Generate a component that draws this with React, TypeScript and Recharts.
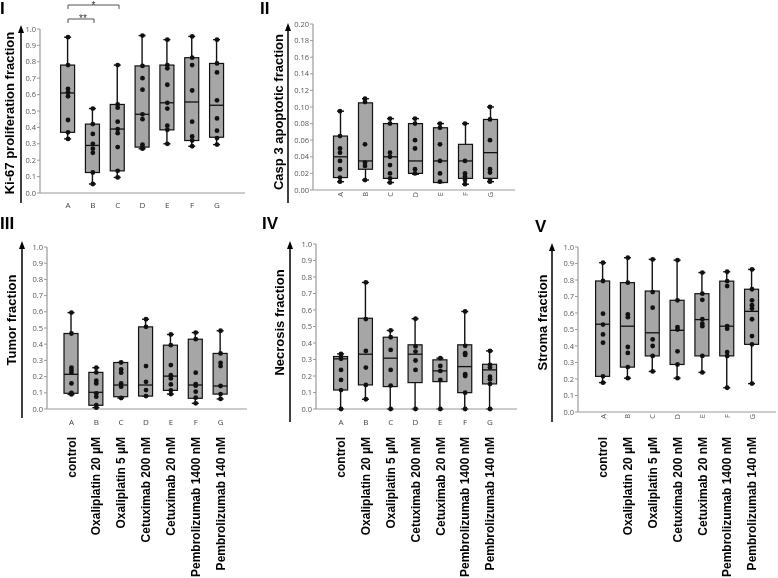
import React from "react";
import { ComposedChart, Bar, Scatter, XAxis, YAxis, Label } from "recharts";

const categories = ["A", "B", "C", "D", "E", "F", "G"];
const treatments = [
  "control",
  "Oxaliplatin 20 µM",
  "Oxaliplatin 5 µM",
  "Cetuximab 200 nM",
  "Cetuximab 20 nM",
  "Pembrolizumab 1400 nM",
  "Pembrolizumab 140 nM",
];

const fractionTicks = [0, 0.1, 0.2, 0.3, 0.4, 0.5, 0.6, 0.7, 0.8, 0.9, 1.0];
const caspTicks = [0, 0.02, 0.04, 0.06, 0.08, 0.1, 0.12, 0.14, 0.16, 0.18, 0.2];

// box stats per category: [min, q1, median, q3, max]
const ki67Stats = [
  [0.33, 0.37, 0.61, 0.78, 0.95],
  [0.055, 0.125, 0.29, 0.42, 0.515],
  [0.095, 0.135, 0.39, 0.54, 0.78],
  [0.27, 0.28, 0.48, 0.775, 0.96],
  [0.3, 0.385, 0.55, 0.78, 0.935],
  [0.285, 0.32, 0.555, 0.825, 0.955],
  [0.295, 0.34, 0.535, 0.79, 0.935],
];
const ki67Points = [
  [0.95, 0.78, 0.635, 0.615, 0.59, 0.445, 0.37, 0.33],
  [0.515, 0.42, 0.36, 0.3, 0.27, 0.245, 0.125, 0.055],
  [0.78, 0.54, 0.52, 0.435, 0.39, 0.365, 0.28, 0.135, 0.095],
  [0.96, 0.775, 0.7, 0.63, 0.48, 0.45, 0.295, 0.28, 0.27],
  [0.935, 0.78, 0.76, 0.66, 0.55, 0.515, 0.41, 0.385, 0.3],
  [0.955, 0.825, 0.78, 0.625, 0.435, 0.345, 0.32, 0.285],
  [0.935, 0.79, 0.735, 0.565, 0.455, 0.38, 0.335, 0.295],
];

const caspStats = [
  [0.01, 0.015, 0.04, 0.065, 0.095],
  [0.012, 0.025, 0.035, 0.105, 0.11],
  [0.009, 0.014, 0.04, 0.08, 0.086],
  [0.019, 0.02, 0.035, 0.08, 0.086],
  [0.009, 0.009, 0.035, 0.075, 0.08],
  [0.007, 0.014, 0.035, 0.055, 0.08],
  [0.01, 0.014, 0.045, 0.085, 0.1],
];
const caspPoints = [
  [0.095, 0.065, 0.05, 0.045, 0.035, 0.025, 0.015, 0.01],
  [0.11, 0.106, 0.055, 0.033, 0.029, 0.012],
  [0.086, 0.08, 0.045, 0.04, 0.03, 0.02, 0.014, 0.009],
  [0.086, 0.08, 0.06, 0.05, 0.025, 0.02],
  [0.08, 0.075, 0.055, 0.035, 0.02, 0.01],
  [0.08, 0.035, 0.02, 0.016, 0.012, 0.007],
  [0.1, 0.085, 0.06, 0.025, 0.021, 0.012, 0.01],
];

const tumorStats = [
  [0.09, 0.097, 0.214, 0.466, 0.595],
  [0.008, 0.023, 0.103, 0.226, 0.255],
  [0.068, 0.076, 0.148, 0.287, 0.287],
  [0.08, 0.08, 0.148, 0.507, 0.554],
  [0.092, 0.115, 0.203, 0.394, 0.46],
  [0.035, 0.066, 0.148, 0.431, 0.472],
  [0.062, 0.092, 0.142, 0.343, 0.483],
];
const tumorPoints = [
  [0.595, 0.466, 0.255, 0.24, 0.224, 0.158, 0.1, 0.09],
  [0.255, 0.226, 0.175, 0.158, 0.097, 0.076, 0.023, 0.008],
  [0.287, 0.244, 0.224, 0.158, 0.138, 0.068],
  [0.554, 0.507, 0.265, 0.168, 0.117, 0.08],
  [0.46, 0.394, 0.271, 0.209, 0.189, 0.152, 0.115, 0.092],
  [0.472, 0.431, 0.224, 0.154, 0.144, 0.107, 0.07, 0.035],
  [0.483, 0.343, 0.285, 0.265, 0.142, 0.092, 0.062],
];

const necrosisStats = [
  [0, 0.115, 0.304, 0.318, 0.334],
  [0.059, 0.146, 0.332, 0.55, 0.767],
  [0, 0.136, 0.308, 0.435, 0.476],
  [0, 0.16, 0.332, 0.389, 0.547],
  [0, 0.166, 0.231, 0.298, 0.308],
  [0, 0.099, 0.257, 0.389, 0.591],
  [0, 0.152, 0.237, 0.271, 0.352],
];
const necrosisPoints = [
  [0.334, 0.318, 0.304, 0.237, 0.176, 0.115, 0],
  [0.767, 0.545, 0.352, 0.251, 0.146, 0.059],
  [0.476, 0.435, 0.358, 0.237, 0.142, 0],
  [0.547, 0.379, 0.348, 0.294, 0.237, 0],
  [0.308, 0.261, 0.231, 0.176, 0],
  [0.591, 0.383, 0.338, 0.328, 0.211, 0.2, 0.099, 0],
  [0.352, 0.267, 0.251, 0.196, 0.18, 0.152, 0],
];

const stromaStats = [
  [0.178, 0.216, 0.532, 0.794, 0.905],
  [0.205, 0.272, 0.52, 0.784, 0.935],
  [0.246, 0.34, 0.48, 0.733, 0.925],
  [0.205, 0.288, 0.495, 0.677, 0.92],
  [0.24, 0.34, 0.56, 0.717, 0.845],
  [0.147, 0.34, 0.52, 0.793, 0.85],
  [0.172, 0.41, 0.61, 0.744, 0.864],
];
const stromaPoints = [
  [0.905, 0.794, 0.596, 0.53, 0.47, 0.42, 0.216, 0.178],
  [0.935, 0.784, 0.592, 0.575, 0.394, 0.358, 0.272, 0.205],
  [0.925, 0.727, 0.632, 0.44, 0.4, 0.34, 0.246],
  [0.92, 0.677, 0.515, 0.5, 0.368, 0.288, 0.205],
  [0.845, 0.717, 0.68, 0.562, 0.535, 0.52, 0.34, 0.24],
  [0.85, 0.793, 0.763, 0.52, 0.505, 0.363, 0.34, 0.147],
  [0.864, 0.744, 0.677, 0.647, 0.627, 0.562, 0.46, 0.41, 0.172],
];

const FRAME = "#9a9a9a";
const BOX_FILL = "#a6a6a6";
const INK = "#111";

function buildBoxes(stats: number[][]) {
  return stats.map((s, i) => ({
    cat: categories[i],
    lo: s[0],
    q1: s[1],
    med: s[2],
    q3: s[3],
    hi: s[4],
    box: [s[1], s[3]],
  }));
}

function buildPoints(points: number[][]) {
  return points.flatMap((vals, i) => vals.map((v) => ({ cat: categories[i], v })));
}

// box + whiskers, positions derived from the bar rect the library gives us
function BoxShape(props: any) {
  const { x, y, width, height, payload } = props;
  const top = Math.min(y, y + height);
  const h = Math.abs(height);
  const ppu = h / (payload.q3 - payload.q1);
  const cx = x + width / 2;
  const yHi = top - (payload.hi - payload.q3) * ppu;
  const yLo = top + h + (payload.q1 - payload.lo) * ppu;
  const yMed = top + (payload.q3 - payload.med) * ppu;
  return (
    <g>
      <line x1={cx} x2={cx} y1={yHi} y2={top} stroke={INK} strokeWidth={1.4} />
      <line x1={cx} x2={cx} y1={top + h} y2={yLo} stroke={INK} strokeWidth={1.4} />
      <line x1={cx - 3.5} x2={cx + 3.5} y1={yHi} y2={yHi} stroke={INK} strokeWidth={1.4} />
      <line x1={cx - 3.5} x2={cx + 3.5} y1={yLo} y2={yLo} stroke={INK} strokeWidth={1.4} />
      <rect x={x} y={top} width={width} height={h} fill={BOX_FILL} stroke={INK} strokeWidth={1.2} />
      <line x1={x} x2={x + width} y1={yMed} y2={yMed} stroke={INK} strokeWidth={1.3} />
    </g>
  );
}

const Dot = (p: any) => <circle cx={p.cx} cy={p.cy} r={2.4} fill={INK} />;

function makeTick(rotated: boolean, withDrug: boolean, letterDy: number, drugDy: number) {
  return (props: any) => {
    const { x, y, payload } = props;
    const i = categories.indexOf(payload.value);
    return (
      <g>
        {rotated ? (
          <text
            transform={`translate(${x},${y + 2}) rotate(-90)`}
            textAnchor="end"
            dy="0.35em"
            fontSize={7.5}
            fill="#555"
            fontFamily="Open Sans"
          >
            {payload.value}
          </text>
        ) : (
          <text x={x} y={y + letterDy} dy="0.35em" textAnchor="middle" fontSize={8} fill="#444" fontFamily="Open Sans">
            {payload.value}
          </text>
        )}
        {withDrug && (
          <text
            transform={`translate(${x},${y + drugDy}) rotate(-90)`}
            textAnchor="end"
            dy="0.35em"
            fontSize={12}
            fontWeight="bold"
            fontFamily="Liberation Sans"
            fill="#000"
          >
            {treatments[i]}
          </text>
        )}
      </g>
    );
  };
}

interface PanelProps {
  left: number;
  top: number;
  width: number;
  height: number;
  mTop: number;
  mRight: number;
  yWidth: number;
  xHeight: number;
  stats: number[][];
  points: number[][];
  ticks: number[];
  digits: number;
  pad: { left: number; right: number };
  title: string;
  titleDx: number;
  titleDy: number;
  tick: any;
}

function Panel(p: PanelProps) {
  const boxes = buildBoxes(p.stats);
  const pts = buildPoints(p.points);
  const max = p.ticks[p.ticks.length - 1];
  return (
    <div style={{ position: "absolute", left: p.left, top: p.top }}>
      <ComposedChart
        width={p.width}
        height={p.height}
        data={boxes}
        margin={{ top: p.mTop, right: p.mRight, bottom: 0, left: 0 }}
      >
        <XAxis
          dataKey="cat"
          type="category"
          allowDuplicatedCategory={false}
          padding={p.pad}
          height={p.xHeight}
          interval={0}
          axisLine={{ stroke: FRAME, strokeWidth: 1.2 }}
          tickLine={false}
          tickSize={0}
          tickMargin={0}
          tick={p.tick}
        />
        <XAxis
          xAxisId="top"
          orientation="top"
          dataKey="cat"
          allowDuplicatedCategory={false}
          height={0}
          tick={false}
          tickLine={false}
          axisLine={{ stroke: FRAME, strokeWidth: 1.2 }}
        />
        <YAxis
          type="number"
          domain={[0, max]}
          ticks={p.ticks}
          interval={0}
          width={p.yWidth}
          tickFormatter={(v: number) => v.toFixed(p.digits)}
          tick={{ fontSize: 7.5, fill: "#555", fontFamily: "Open Sans" }}
          tickSize={3}
          tickMargin={1}
          axisLine={{ stroke: FRAME, strokeWidth: 1.2 }}
          tickLine={{ stroke: FRAME }}
        >
          <Label
            value={p.title}
            angle={-90}
            position="center"
            dx={p.titleDx}
            dy={p.titleDy}
            fill="#000"
            fontSize={13}
            fontWeight="bold"
            fontFamily="Liberation Sans"
          />
        </YAxis>
        <YAxis
          yAxisId="right"
          orientation="right"
          width={0}
          tick={false}
          tickLine={false}
          axisLine={{ stroke: FRAME, strokeWidth: 1.2 }}
        />
        <Bar dataKey="box" barSize={14} shape={BoxShape} isAnimationActive={false} />
        <Scatter data={pts} dataKey="v" shape={Dot} isAnimationActive={false} />
      </ComposedChart>
    </div>
  );
}

function Arrow({ x, y1, y2 }: { x: number; y1: number; y2: number }) {
  return (
    <g>
      <line x1={x} x2={x} y1={y1} y2={y2 + 6} stroke="#000" strokeWidth={1.5} />
      <polygon points={`${x - 3},${y2 + 8} ${x + 3},${y2 + 8} ${x},${y2}`} fill="#000" />
    </g>
  );
}

const numeralStyle = { fontFamily: "Liberation Sans", fontWeight: "bold" as const, fontSize: 17, fill: "#000" };

export default function App() {
  return (
    <div
      style={{
        position: "absolute",
        left: 0,
        top: 0,
        width: 778,
        height: 578,
        background: "#fff",
        overflow: "hidden",
        willChange: "transform",
      }}
    >
      <Panel
        left={0}
        top={0}
        width={250}
        height={213}
        mTop={29}
        mRight={5}
        yWidth={40}
        xHeight={20}
        stats={ki67Stats}
        points={ki67Points}
        ticks={fractionTicks}
        digits={1}
        pad={{ left: 15.6, right: 15.6 }}
        title="Ki-67 proliferation fraction"
        titleDx={-11}
        titleDy={2}
        tick={makeTick(false, false, 12, 0)}
      />
      <Panel
        left={260}
        top={0}
        width={260}
        height={210}
        mTop={24}
        mRight={5}
        yWidth={53}
        xHeight={20}
        stats={caspStats}
        points={caspPoints}
        ticks={caspTicks}
        digits={2}
        pad={{ left: 14.5, right: 12.5 }}
        title="Casp 3 apoptotic fraction"
        titleDx={-8}
        titleDy={5}
        tick={makeTick(true, false, 0, 0)}
      />
      <Panel
        left={0}
        top={240}
        width={252}
        height={338}
        mTop={7}
        mRight={5}
        yWidth={47}
        xHeight={169}
        stats={tumorStats}
        points={tumorPoints}
        ticks={fractionTicks}
        digits={1}
        pad={{ left: 12, right: 14 }}
        title="Tumor fraction"
        titleDx={-12.5}
        titleDy={-8}
        tick={makeTick(false, true, 13, 28)}
      />
      <Panel
        left={260}
        top={240}
        width={262}
        height={338}
        mTop={4}
        mRight={5}
        yWidth={56}
        xHeight={169}
        stats={necrosisStats}
        points={necrosisPoints}
        ticks={fractionTicks}
        digits={1}
        pad={{ left: 12.6, right: 14.6 }}
        title="Necrosis fraction"
        titleDx={-9}
        titleDy={-4}
        tick={makeTick(false, true, 13, 28)}
      />
      <Panel
        left={510}
        top={240}
        width={268}
        height={338}
        mTop={7}
        mRight={2}
        yWidth={68}
        xHeight={166}
        stats={stromaStats}
        points={stromaPoints}
        ticks={fractionTicks}
        digits={1}
        pad={{ left: 12.6, right: 11.6 }}
        title="Stroma fraction"
        titleDx={-1.5}
        titleDy={-7}
        tick={makeTick(true, true, 0, 25)}
      />
      <svg
        width={778}
        height={578}
        style={{ position: "absolute", left: 0, top: 0, pointerEvents: "none" }}
      >
        <Arrow x={21} y1={203} y2={25} />
        <Arrow x={288} y1={203} y2={23} />
        <Arrow x={22} y1={418} y2={241} />
        <Arrow x={290} y1={422} y2={241} />
        <Arrow x={552} y1={422} y2={243} />

        <text x={0} y={14} {...numeralStyle}>I</text>
        <text x={260} y={14} {...numeralStyle}>II</text>
        <text x={0} y={229} {...numeralStyle}>III</text>
        <text x={262} y={229} {...numeralStyle}>IV</text>
        <text x={535} y={232} {...numeralStyle}>V</text>

        <path d="M68,9 V5 H119 V9" fill="none" stroke="#555" strokeWidth={1} />
        <text x={93.5} y={8.5} textAnchor="middle" fontSize={10} fill="#333" fontFamily="Liberation Sans">*</text>
        <path d="M68,23 V19 H94 V23" fill="none" stroke="#555" strokeWidth={1} />
        <text x={83} y={21.5} textAnchor="middle" fontSize={10} fill="#333" fontFamily="Liberation Sans">**</text>
      </svg>
    </div>
  );
}
